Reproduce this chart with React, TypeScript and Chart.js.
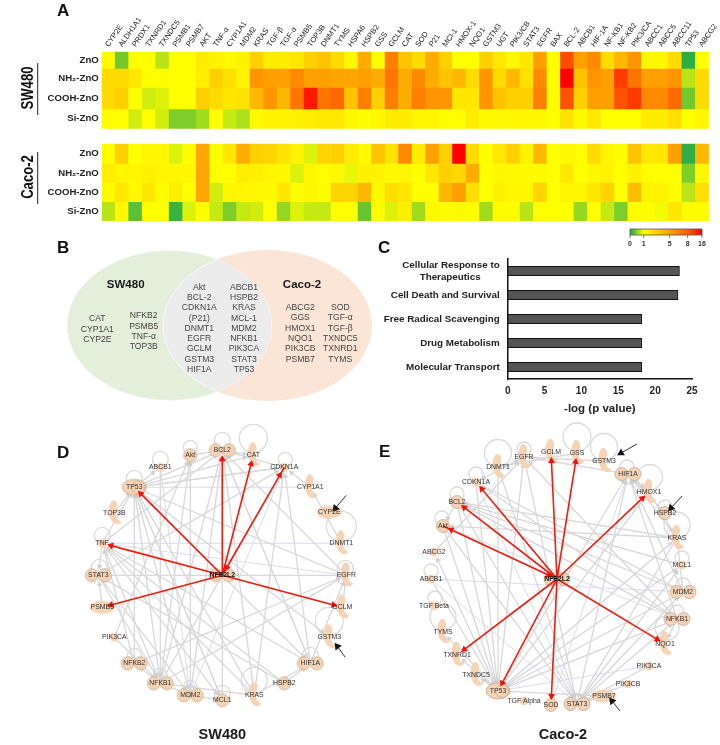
import React, { useEffect, useRef } from "react";
import { Chart, registerables } from "chart.js";

Chart.register(...registerables);

const FONT = '"Liberation Sans", Arial, sans-serif';

/* ---------- Panel A: heat map ---------- */
const genes = ["CYP2E","ALDH1A1","PRDX1","TXNRD1","TXNDC5","PSMB1","PSMB7","AKT","TNF-α","CYP1A1","MDM2","KRAS","TGF-β","TGF-α","PSMB5","TOP3B","DNMT1","TYMS","HSPA6","HSPB2","GSS","GCLM","CAT","SOD","P21","MCl-1","HMOX-1","NQO1","GSTM3","UGT","PIK3/CB","STAT3","EGFR","BAX","BCL-2","ABCB1","HIF-1A","NF-KB1","NF-KB2","PIK3/CA","ABCC1","ABCC5","ABCC11","TP53","ABCG2"];
const rowNames = ["ZnO", "NH₂-ZnO", "COOH-ZnO", "Si-ZnO"];
const swZnO = [1.2,0.4,1,1,0.7,1,1,1.8,1.5,1.2,1.5,3,1.8,1.8,2,3,3.5,2.5,1.3,4.5,1,6.5,3.5,2.5,4.5,3,1,1,3,2,1.3,2,5,1,9.5,5,6,2.5,4,5.5,1.3,1.3,2.5,0.1,1];
const swNH2 = [2.5,2.5,2,1.1,1.1,1.1,1.1,1.7,3,2.3,1.5,5.5,5,5,6,5,5,4.8,4.8,5,4.5,7,4.5,6,4.5,3.5,4,2.5,5.5,2.5,4,2.3,6,1,16,3.5,5.5,5,11,7,5,5,5.5,0.7,2.5];
const swCOOH = [2.5,3,1,0.8,0.85,1,1,3,2.5,2,2.2,4,5.5,4,7,14,7,7.5,3.5,6.5,3,6.5,4.5,6.5,5.5,5.5,2,2,5.5,3.5,3,3,6.5,1,9,3,5,5,9,11,6,6,7.5,0.4,2.5];
const swSi = [1.1,1.1,0.8,1,0.8,0.45,0.45,0.6,1.1,0.75,0.65,1.2,1.5,1.5,1.6,1.8,2,2,1.4,1.1,1.3,1.8,1.8,1.4,1.4,1.1,1.1,1.8,1.2,1.3,1.3,1.3,1.2,1,2.2,1.2,2,1.1,1.1,1.1,1.8,1.8,2.3,1,1.3];
const caZnO = [1.1,3,1,1.3,1.3,0.85,1.1,4.8,1.1,2,4.5,3,2.8,2.2,1.5,0.85,2.8,3,1.8,1.3,3.5,2.2,6,1.8,5,3,16,2.5,1,2,3,1.5,4,1,1.3,1.1,2.5,1.4,1.1,3.5,2,2,5,0.1,4];
const caNH2 = [1.7,1.4,1.4,1.6,1.4,1.3,1.3,4.8,1.1,1,1.7,1.6,1.4,1.3,0.85,1.4,1.1,1.3,0.9,1.6,1.5,1.2,1.4,1.1,2,3,2.6,4.5,1,1.3,1.2,1.2,1.2,1,2,1,1.4,1.5,1,1.6,1.1,1,1,0.45,1.4];
const caCOOH = [1.2,2,1.2,2,1.1,1.7,1.1,4.8,0.8,1.4,1.4,1.3,1.2,2,1.1,1.4,1.1,2.8,2.8,4,1.3,2.4,2,1.1,1,4,5,2.4,1,1.6,1.4,1.4,2.8,1,1.4,1.4,2,2.8,1,3.8,1.5,1.5,1.1,0.7,2.3];
const caSi = [0.7,1.3,0.3,1,1,0.15,0.85,1.1,0.75,0.45,0.75,0.8,1,0.55,0.85,0.75,0.75,1,1,0.35,1.1,0.85,1.7,0.6,1.3,1.1,1.2,1.1,0.6,1.1,1.1,0.7,1,1,1,0.55,1.1,0.75,0.45,1.1,1.1,0.95,2,1.1,1.1];
const heatRows = [swZnO, swNH2, swCOOH, swSi, caZnO, caNH2, caCOOH, caSi];
const rowEdges = [[0,16.6],[16.6,35.6],[35.6,57],[57,76.6],[92.3,111.6],[111.6,130.6],[130.6,149.6],[149.6,169]];
const legendValues = [0, 1, 5, 8, 16];
const legendFractions = [0, 0.19, 0.55, 0.8, 1];
const colorStops: [number, number[]][] = [[0,[20,165,75]],[1,[255,255,0]],[5,[255,160,0]],[8,[255,95,0]],[16,[255,0,0]]];

function heatColor(v: number) {
  for (let i = 1; i < colorStops.length; i++) {
    const [b, cb] = colorStops[i];
    const [a, ca] = colorStops[i - 1];
    if (v <= b) {
      const t = (v - a) / (b - a);
      const c = ca.map((p, k) => Math.round(p + (cb[k] - p) * t));
      return `rgb(${c[0]},${c[1]},${c[2]})`;
    }
  }
  return "rgb(255,0,0)";
}

/* ---------- Panel B: Venn ---------- */
const vennLeftA = ["CAT", "CYP1A1", "CYP2E"];
const vennLeftB = ["NFKB2", "PSMB5", "TNF-α", "TOP3B"];
const vennMidA = ["Akt", "BCL-2", "CDKN1A", "(P21)", "DNMT1", "EGFR", "GCLM", "GSTM3", "HIF1A"];
const vennMidB = ["ABCB1", "HSPB2", "KRAS", "MCL-1", "MDM2", "NFKB1", "PIK3CA", "STAT3", "TP53"];
const vennRightA = ["ABCG2", "GGS", "HMOX1", "NQO1", "PIK3CB", "PSMB7"];
const vennRightB = ["SOD", "TGF-α", "TGF-β", "TXNDC5", "TXNRD1", "TYMS"];

/* ---------- Panel C: bars ---------- */
const termLabels: (string | string[])[] = [["Cellular Response to", "Therapeutics\u00a0\u00a0\u00a0\u00a0\u00a0\u00a0\u00a0"], "Cell Death and Survival", "Free Radical Scavenging", "Drug Metabolism", "Molecular Transport"];
const termValues = [23.3, 23.1, 18.2, 18.2, 18.2];

/* ---------- Panels D, E: networks (x, y relative to the hub, shape) ---------- */
type Node = [string, number, number, string];
const swNodes: Node[] = [
  ["BCL2",0,-125,"double"],["CAT",31,-120,"comma"],["CDKN1A",62,-108,"small"],["CYP1A1",88,-88,"comma"],["CYP2E",107,-63,"oval"],["DNMT1",119,-32,"comma"],["EGFR",124,0,"comma"],["GCLM",120,32,"comma"],["GSTM3",107,62,"comma"],["HIF1A",88,88,"double"],["HSPB2",62,108,"circle"],["KRAS",32,120,"comma"],["MCL1",0,125,"circle"],["MDM2",-32,120,"double"],["NFKB1",-62,108,"double"],["NFKB2",-88,88,"double"],["PIK3CA",-108,62,"small"],["PSMB5",-120,32,"oval"],["STAT3",-124,0,"double"],["TNF",-120,-32,"small"],["TOP3B",-108,-62,"comma"],["TP53",-88,-88,"big"],["ABCB1",-62,-108,"small"],["Akt",-32,-120,"circle"],["NFE2L2",0,0,"double"],
];
const caNodes: Node[] = [
  ["GCLM",-6,-127,"comma"],["GSS",20,-126,"comma"],["GSTM3",47,-118,"comma"],["HIF1A",71,-105,"double"],["HMOX1",92,-87,"comma"],["HSPB2",108,-66,"circle"],["KRAS",120,-41,"comma"],["MCL1",125,-14,"small"],["MDM2",126,13,"double"],["NFKB1",120,40,"double"],["NQO1",108,65,"comma"],["PIK3CA",92,87,"small"],["PIK3CB",71,105,"small"],["PSMB7",47,117,"oval"],["STAT3",20,125,"double"],["SOD",-6,126,"circle"],["TGF Alpha",-33,122,"small"],["TP53",-59,112,"big"],["TXNDC5",-81,96,"comma"],["TXNRD1",-100,76,"comma"],["TYMS",-114,53,"comma"],["TGF Beta",-123,27,"small"],["ABCB1",-126,0,"small"],["ABCG2",-123,-27,"small"],["Akt",-114,-53,"circle"],["BCL2",-100,-77,"circle"],["CDKN1A",-81,-97,"small"],["DNMT1",-59,-112,"comma"],["EGFR",-33,-122,"comma"],["NFE2L2",0,0,"double"],
];
const swGray = "Akt>BCL2 TP53>ABCB1 TP53>BCL2 TP53>CAT BCL2>CAT CDKN1A>BCL2 DNMT1>CYP1A1 EGFR>STAT3 EGFR>TP53 EGFR>BCL2 GCLM>EGFR HIF1A>EGFR HIF1A>TP53 HIF1A>BCL2 HIF1A>CDKN1A KRAS>TNF KRAS>BCL2 KRAS>HIF1A KRAS>NFKB1 KRAS>TP53 HSPB2>HIF1A HSPB2>TNF HSPB2>STAT3 MCL1>BCL2 MCL1>MDM2 MCL1>TP53 MDM2>TP53 MDM2>Akt MDM2>BCL2 MDM2>NFKB1 NFKB1>BCL2 NFKB1>CDKN1A NFKB1>NFKB2 NFKB1>TP53 NFKB1>EGFR NFKB1>Akt NFKB2>TP53 NFKB2>TNF NFKB2>EGFR PIK3CA>Akt PIK3CA>NFKB1 PSMB5>STAT3 TNF>STAT3 TOP3B>TP53 TNF>TP53 TNF>NFKB1 TNF>MCL1 TNF>BCL2 STAT3>CDKN1A STAT3>MDM2 STAT3>NFKB1 ABCB1>NFKB1 TP53>CDKN1A TP53>MDM2 TP53>NFKB1 TP53>HIF1A TP53>GSTM3 CDKN1A>KRAS CYP1A1>CDKN1A TNF>HIF1A";
const swLav = "CYP1A1>TP53 DNMT1>TNF CDKN1A>MDM2 EGFR>TNF CDKN1A>TP53 BCL2>HIF1A GCLM>TNF TP53>MCL1 ABCB1>MDM2";
const swRed = "NFE2L2>BCL2 NFE2L2>CAT NFE2L2>CDKN1A CDKN1A>NFE2L2 NFE2L2>TP53 NFE2L2>TNF NFE2L2>PSMB5 NFE2L2>GCLM";
const caGray = "CDKN1A>EGFR EGFR>GSTM3 EGFR>HIF1A HIF1A>HMOX1 HMOX1>KRAS KRAS>Akt KRAS>BCL2 MCL1>BCL2 MDM2>BCL2 NFKB1>BCL2 NFKB1>EGFR NFKB1>TP53 NFKB1>STAT3 MDM2>TP53 MDM2>STAT3 MCL1>TP53 KRAS>TP53 KRAS>STAT3 HIF1A>TP53 HIF1A>STAT3 EGFR>TP53 EGFR>STAT3 TP53>EGFR STAT3>EGFR STAT3>HIF1A TP53>HIF1A PSMB7>TP53 PSMB7>STAT3 PIK3CA>STAT3 PIK3CB>STAT3 STAT3>NFKB1 STAT3>MDM2 STAT3>MCL1 NFKB1>HIF1A MDM2>HIF1A KRAS>HIF1A BCL2>TP53 CDKN1A>TP53 DNMT1>TP53 Akt>TP53 ABCG2>EGFR ABCB1>TP53 TP53>ABCG2 TP53>TGF Beta TP53>TYMS TP53>TXNRD1 TP53>TXNDC5 BCL2>STAT3 Akt>STAT3 CDKN1A>NFKB1 CDKN1A>MDM2 BCL2>Akt DNMT1>STAT3 TGF Beta>PSMB7 EGFR>CDKN1A HSPB2>HIF1A MDM2>KRAS NFKB1>NQO1 GSS>DNMT1 HMOX1>TP53";
const caLav = "ABCB1>MDM2 Akt>NFKB1 BCL2>NFKB1 CDKN1A>STAT3 TP53>NFKB1 TP53>MCL1 TP53>PIK3CA TGF Alpha>HIF1A SOD>HIF1A TP53>KRAS ABCB1>STAT3";
const caRed = "NFE2L2>GCLM NFE2L2>GSS NFE2L2>HMOX1 NFE2L2>NQO1 NFE2L2>SOD NFE2L2>TP53 NFE2L2>TXNRD1 NFE2L2>Akt Akt>NFE2L2 NFE2L2>BCL2 NFE2L2>CDKN1A";
const swLoops: [number, number, number][] = [[0,-135,8],[31,-137,14],[63,-116,7],[119,-49,15],[123,-7,8],[107,46,14],[88,80,8],[32,105,13],[0,118,8],[-32,112,7],[-62,100,7],[-88,80,7],[-123,-8,8],[-120,-40,8],[-88,-97,8],[-62,-116,8],[-32,-128,7]];
const caLoops: [number, number, number][] = [[20,-142,14],[47,-132,13.5],[-59,-126,13.5],[-33,-130,7],[70,-112,7],[93,-102,12.5],[108,-72,7],[120,-54,13],[125,-21,7],[126,6,7],[120,33,7],[110,49,12],[-81,-105,7],[-100,-85,7],[-115,-61,7],[-126,-8,7],[-122,19,7],[-114,38,13]];
const swPointers: number[][] = [[124,-80,113,-67],[123,82,115,71]];
const caPointers: number[][] = [[80,-135,64,-126],[125,-83,114,-71],[63,132,55,122]];

/* ---------- helpers ---------- */
function glyph(kind: string): HTMLCanvasElement {
  const c = document.createElement("canvas");
  const sizes: Record<string, number[]> = { circle:[18,18], small:[12,12], oval:[28,16], double:[30,18], big:[32,20], comma:[18,30] };
  const [w, h] = sizes[kind];
  c.width = w; c.height = h;
  const x = c.getContext("2d")!;
  x.fillStyle = "#f6d3b5"; x.strokeStyle = "#c0aa96"; x.lineWidth = 0.8;
  const circ = (cx: number, cy: number, rx: number, ry: number) => { x.beginPath(); x.ellipse(cx, cy, rx, ry, 0, 0, 7); x.fill(); x.stroke(); };
  if (kind === "circle") circ(9, 9, 6.5, 6.5);
  if (kind === "small") { x.strokeStyle = "#f6d3b5"; circ(6, 6, 4, 4); }
  if (kind === "oval") { x.strokeStyle = "#f6d3b5"; circ(14, 8, 12, 6); }
  if (kind === "double") { circ(8.5, 9, 6.5, 6.5); circ(21.5, 9, 6.5, 6.5); }
  if (kind === "big") { circ(16, 10, 12, 8); circ(20, 10, 6.5, 6.5); }
  if (kind === "comma") {
    x.beginPath();
    x.moveTo(7, 2);
    x.bezierCurveTo(12, 1, 13, 7, 11.5, 11);
    x.bezierCurveTo(10, 16, 11, 22, 16, 23);
    x.bezierCurveTo(15, 27, 9, 27, 6, 22);
    x.bezierCurveTo(3, 17, 2, 8, 7, 2);
    x.closePath(); x.fill();
  }
  return c;
}

function edgeSet(nodes: Node[], list: string, tipGap: number) {
  const map: Record<string, Node> = {};
  nodes.forEach((n) => (map[n[0]] = n));
  const line: { x: number; y: number }[] = [];
  const heads: { x: number; y: number }[] = [];
  const rotation: number[] = [];
  list.split(/ (?=[A-Z][^>]*>)/).forEach((e) => {
    const [a, b] = e.split(">");
    const A = map[a], B = map[b];
    if (!A || !B) return;
    const dx = B[1] - A[1], dy = B[2] - A[2], len = Math.hypot(dx, dy);
    const tx = B[1] - (dx / len) * tipGap, ty = B[2] - (dy / len) * tipGap;
    line.push({ x: A[1], y: A[2] }, { x: tx, y: ty }, { x: NaN, y: NaN });
    heads.push({ x: tx, y: ty });
    rotation.push((Math.atan2(dx, -dy) * 180) / Math.PI);
  });
  return { line, heads, rotation };
}

function fullScale(size: number, hub: number, reverse = false) {
  return { type: "linear", display: false, min: -hub, max: size - hub, reverse };
}

function networkConfig(nodes: Node[], gray: string, lav: string, red: string, loops: number[][], pointers: number[][], hubX: number, hubY: number, title: string, titleX: number): any {
  const g = edgeSet(nodes, gray, 9), l = edgeSet(nodes, lav, 9), r = edgeSet(nodes, red, 9);
  const lineDs = (data: any[], color: string, width: number, order: number) => ({ type: "scatter", showLine: true, data, borderColor: color, borderWidth: width, pointRadius: 0, spanGaps: false, order, clip: false });
  const headDs = (set: any, color: string, radius: number, order: number) => ({ type: "scatter", showLine: false, data: set.heads, pointStyle: "triangle", pointRadius: radius, pointRotation: set.rotation, backgroundColor: color, borderWidth: 0, order, clip: false });
  const glyphs: Record<string, HTMLCanvasElement> = {};
  const styles = nodes.map((n) => (glyphs[n[3]] = glyphs[n[3]] || glyph(n[3])));
  const ptr = { heads: [] as any[], rotation: [] as number[], line: [] as any[] };
  pointers.forEach(([a, b, c, d]) => {
    ptr.line.push({ x: a, y: b }, { x: c, y: d }, { x: NaN, y: NaN });
    ptr.heads.push({ x: c, y: d });
    ptr.rotation.push((Math.atan2(c - a, -(d - b)) * 180) / Math.PI);
  });
  const nodesDs = { type: "scatter", showLine: false, data: nodes.map((n) => ({ x: n[1], y: n[2] })), pointStyle: styles, pointRadius: 8, order: 4, clip: false };
  return {
    type: "scatter",
    data: {
      datasets: [
        nodesDs,
        { type: "scatter", showLine: false, data: loops.map((p) => ({ x: p[0], y: p[1] })), pointRadius: loops.map((p) => p[2]), backgroundColor: "rgba(0,0,0,0)", borderColor: "#dadada", borderWidth: 1.3, order: 9, clip: false },
        lineDs(g.line, "#d8d8d8", 1.3, 7),
        lineDs(l.line, "#d6d7ec", 0.9, 8),
        headDs(g, "#d0d0d0", 3.2, 6),
        headDs(l, "#d2d3e8", 2.8, 6),
        lineDs(r.line, "#f41a0c", 1.6, 3),
        headDs(r, "#f40f05", 4, 2),
        lineDs(ptr.line, "#333333", 1, 1),
        headDs(ptr, "#111111", 4.5, 0),
      ],
    },
    options: {
      animation: false, responsive: false, events: [],
      layout: { padding: 0, autoPadding: false },
      plugins: { legend: { display: false }, tooltip: { enabled: false } },
      scales: { x: fullScale(720, hubX), y: fullScale(745, hubY, true) },
    },
    plugins: [{
      id: "netLabels",
      afterDraw(chart: any) {
        const { ctx } = chart;
        const meta = chart.getDatasetMeta(0);
        ctx.save();
        ctx.textAlign = "center"; ctx.textBaseline = "middle";
        nodes.forEach((n, i) => {
          const hub = n[0] === "NFE2L2";
          ctx.font = `${hub ? "bold " : ""}6.9px ${FONT}`;
          ctx.fillStyle = hub ? "#111" : "#333";
          ctx.fillText(n[0], meta.data[i].x, meta.data[i].y);
        });
        ctx.font = `bold 14.5px ${FONT}`; ctx.fillStyle = "#1a1a1a";
        ctx.fillText(title, chart.scales.x.getPixelForValue(titleX), chart.scales.y.getPixelForValue(735 - hubY));
        ctx.restore();
      },
    }],
  };
}

const heatConfig = (): any => ({
  type: "bar",
  data: {
    labels: genes,
    datasets: heatRows.map((vals, r) => ({
      data: vals.map(() => rowEdges[r]),
      backgroundColor: vals.map(heatColor),
      borderWidth: 0, barPercentage: 1, categoryPercentage: 1, grouped: false,
    })),
  },
  options: {
    animation: false, responsive: false, events: [],
    layout: { padding: { right: 8.3, bottom: 9, left: 0, top: 0 }, autoPadding: false },
    plugins: { legend: { display: false }, tooltip: { enabled: false } },
    scales: {
      x: {
        position: "top", stacked: false, grid: { display: false, drawTicks: false }, border: { display: false },
        ticks: { autoSkip: false, minRotation: 55, maxRotation: 55, padding: 3, labelOffset: 6, color: "#222", font: { size: 7.6, family: FONT } },
        afterFit(s: any) { s.height = 51.7; },
      },
      y: {
        min: 0, max: 169, reverse: true, grid: { display: false, drawTicks: false }, border: { display: false },
        afterBuildTicks(s: any) { s.ticks = rowEdges.map((e) => ({ value: (e[0] + e[1]) / 2 })); },
        ticks: { padding: 3, color: "#222", font: { size: 9.6, weight: "bold", family: FONT }, callback: (_: any, i: number) => rowNames[i % 4] },
        afterFit(s: any) { s.width = 101.7; },
      },
    },
  },
});

const barConfig = (): any => ({
  type: "bar",
  data: { labels: termLabels, datasets: [{ data: termValues, backgroundColor: "#555555", borderColor: "#111111", borderWidth: 1, barThickness: 9.5, borderSkipped: false }] },
  options: {
    indexAxis: "y", animation: false, responsive: false, events: [],
    layout: { padding: { top: 9, right: 18, left: 0, bottom: 0 }, autoPadding: false },
    plugins: { legend: { display: false }, tooltip: { enabled: false } },
    scales: {
      x: {
        min: 0, max: 25, grid: { display: false, drawTicks: false }, border: { color: "#111", width: 1.5 },
        ticks: { stepSize: 5, padding: 6, color: "#222", font: { size: 10, weight: "bold", family: FONT }, maxRotation: 0 },
        title: { display: true, text: "-log (p value)", color: "#222", padding: { top: 6 }, font: { size: 11.5, weight: "bold", family: FONT } },
        afterFit(s: any) { s.height = 41; s.paddingLeft = 0; s.paddingRight = 0; },
      },
      y: {
        grid: { display: false, drawTicks: false }, border: { color: "#111", width: 1.5 },
        ticks: { padding: 8, color: "#222", font: { size: 9.8, weight: "bold", family: FONT }, autoSkip: false },
        afterFit(s: any) { s.width = 137.7; s.paddingTop = 0; s.paddingBottom = 0; },
      },
    },
  },
});

const pageConfig = (): any => ({
  type: "scatter",
  data: { datasets: [{ data: [] }] },
  options: {
    animation: false, responsive: false, events: [],
    layout: { padding: 0, autoPadding: false },
    plugins: { legend: { display: false }, tooltip: { enabled: false } },
    scales: { x: fullScale(720, 0), y: fullScale(745, 0, true) },
  },
  plugins: [{
    id: "pageArt",
    beforeDatasetsDraw(chart: any) {
      const { ctx } = chart;
      const X = (v: number) => chart.scales.x.getPixelForValue(v);
      const Y = (v: number) => chart.scales.y.getPixelForValue(v);
      ctx.save();
      // Venn
      const L = () => { ctx.beginPath(); ctx.ellipse(X(169.5), Y(325.5), 102.5, 75, 0, 0, 7); };
      const R = () => { ctx.beginPath(); ctx.ellipse(X(267.5), Y(325.5), 104.5, 75.5, 0, 0, 7); };
      ctx.fillStyle = "#e3efda"; L(); ctx.fill();
      ctx.fillStyle = "#fbe5d7"; R(); ctx.fill();
      ctx.save(); L(); ctx.clip(); ctx.fillStyle = "#ececec"; R(); ctx.fill();
      ctx.strokeStyle = "#f7f7f7"; ctx.lineWidth = 1; R(); ctx.stroke(); L(); ctx.stroke(); ctx.restore();
      ctx.textAlign = "center"; ctx.textBaseline = "middle";
      const put = (t: string, x: number, y: number) => ctx.fillText(t, X(x), Y(y));
      ctx.fillStyle = "#444"; ctx.font = `8.6px ${FONT}`;
      const col = (list: string[], x: number, y0: number) => list.forEach((t, i) => put(t, x, y0 + i * 10.3));
      col(vennLeftA, 97.3, 319); col(vennLeftB, 143.7, 316); col(vennMidA, 199.3, 287.3); col(vennMidB, 244, 287.3); col(vennRightA, 300.3, 307.7); col(vennRightB, 340.3, 307.7);
      ctx.fillStyle = "#1a1a1a"; ctx.font = `bold 11.5px ${FONT}`;
      put("SW480", 125.7, 285); put("Caco-2", 302, 285);
      // panel letters
      ctx.fillStyle = "#111"; ctx.font = `bold 17px ${FONT}`; ctx.textAlign = "left";
      put("A", 57, 11.5); put("B", 57, 248); put("C", 378, 248); put("D", 57, 453); put("E", 379, 452);
      // row-group labels
      ctx.textAlign = "center";
      [["SW480", 88, 63, 115], ["Caco-2", 177, 152, 204]].forEach(([t, cy, a, b]: any) => {
        ctx.save(); ctx.translate(X(29), Y(cy)); ctx.rotate(-Math.PI / 2); ctx.scale(0.82, 1);
        ctx.font = `bold 16px ${FONT}`; ctx.fillStyle = "#111"; ctx.fillText(t, 0, 0); ctx.restore();
        ctx.strokeStyle = "#222"; ctx.lineWidth = 1; ctx.beginPath(); ctx.moveTo(X(37.7), Y(a)); ctx.lineTo(X(37.7), Y(b)); ctx.stroke();
      });
      // colour key
      const x0 = 630, x1 = 702;
      const grad = ctx.createLinearGradient(X(x0), 0, X(x1), 0);
      legendValues.forEach((v, i) => grad.addColorStop(legendFractions[i], heatColor(v)));
      ctx.fillStyle = grad; ctx.fillRect(X(x0), Y(229), x1 - x0, 6);
      ctx.strokeStyle = "#555"; ctx.lineWidth = 0.8; ctx.strokeRect(X(x0), Y(229), x1 - x0, 6);
      ctx.fillStyle = "#333"; ctx.font = `bold 7px ${FONT}`;
      legendValues.forEach((v, i) => {
        const px = x0 + (x1 - x0) * legendFractions[i];
        ctx.beginPath(); ctx.moveTo(X(px), Y(235)); ctx.lineTo(X(px), Y(238)); ctx.stroke();
        put(String(v), px, 244.5);
      });
      ctx.restore();
    },
  }],
});

function Layer({ make, left, top, width, height }: any) {
  const ref = useRef<HTMLCanvasElement>(null);
  useEffect(() => {
    const chart = new Chart(ref.current!, make());
    return () => chart.destroy();
  }, []);
  return <canvas ref={ref} width={width} height={height} style={{ position: "absolute", left, top, width, height }} />;
}

export default function App() {
  return (
    <div style={{ position: "absolute", left: 0, top: 0, width: 720, height: 745, background: "#fff", overflow: "hidden" }}>
      <Layer make={pageConfig} left={0} top={0} width={720} height={745} />
      <Layer make={heatConfig} left={0} top={0} width={720} height={230} />
      <Layer make={barConfig} left={370} top={250} width={340} height={170} />
      <Layer make={() => networkConfig(swNodes, swGray, swLav, swRed, swLoops, swPointers, 222.3, 575.3, "SW480", 0)} left={0} top={0} width={720} height={745} />
      <Layer make={() => networkConfig(caNodes, caGray, caLav, caRed, caLoops, caPointers, 557, 579, "Caco-2", 6)} left={0} top={0} width={720} height={745} />
    </div>
  );
}
